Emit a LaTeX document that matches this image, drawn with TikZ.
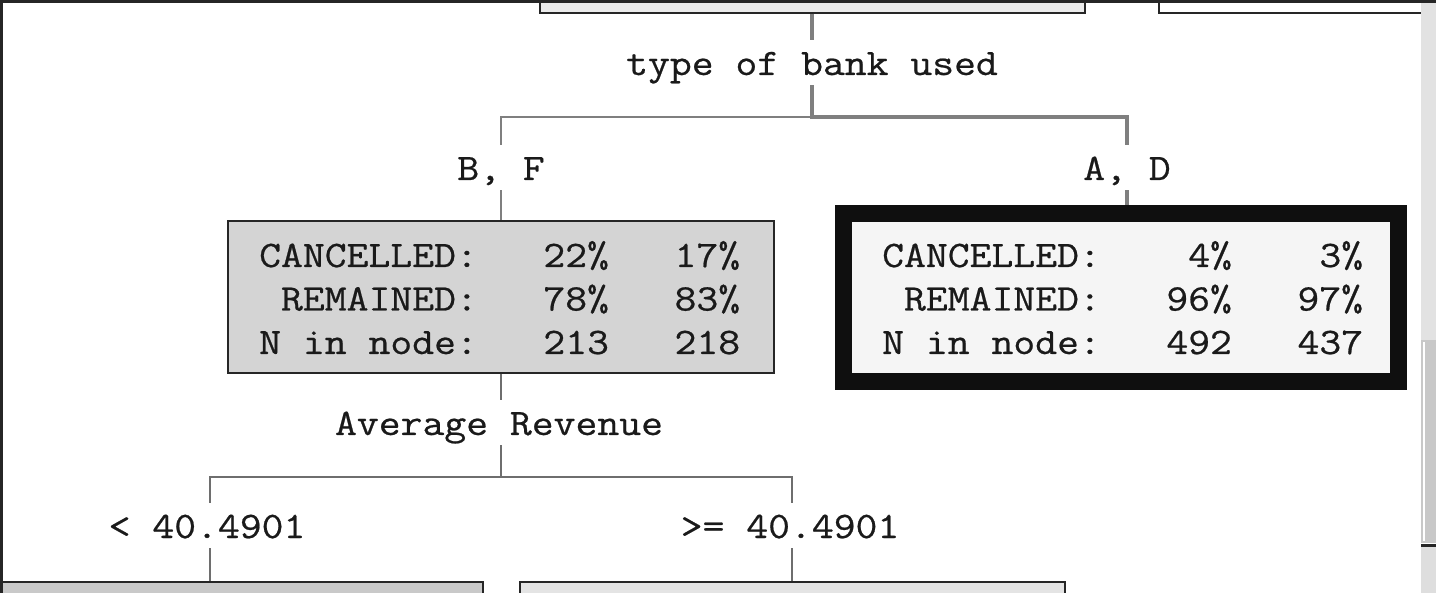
\documentclass[tikz,border=0pt]{standalone}
\usepackage{fontspec}
\newfontfamily\treefamily[FakeStretch=1.135,FakeBold=0.6]{Latin Modern Mono}
\newcommand\treetxt{\treefamily\fontsize{37.4pt}{43.5pt}\selectfont}
\definecolor{ink}{HTML}{1A1A1A}
\definecolor{frame}{HTML}{262626}
\definecolor{rootfill}{HTML}{EBEBEB}
\definecolor{bffill}{HTML}{D4D4D4}
\definecolor{adfill}{HTML}{F5F5F5}
\definecolor{ltfill}{HTML}{C9C9C9}
\definecolor{gefill}{HTML}{E4E4E4}
\definecolor{linegray}{HTML}{7F7F7F}
\definecolor{linegraydark}{HTML}{6E6E6E}
\definecolor{scrolltrack}{HTML}{E2E2E2}
\definecolor{thumbfill}{HTML}{C8C8C8}
\begin{document}
\begin{tikzpicture}[x=1pt,y=-1pt,
  boxframe/.style={draw=frame, line width=2pt, inner sep=0pt},
  treetext/.style={font=\treetxt, text=ink, inner sep=0pt, anchor=base west},
  splitlabel/.style={font=\treetxt, text=ink, fill=white, inner sep=0pt, text height=35pt, text depth=10pt, anchor=base},
  conn/.style={draw=linegray, line width=2.5pt},
  connhi/.style={draw=linegray, line width=3.5pt},
  connlow/.style={draw=linegraydark, line width=2pt}]
\useasboundingbox (0,0) rectangle (1436,593);
\clip (0,0) rectangle (1436,593);

% boxes
\node[boxframe, fill=rootfill, minimum width=545pt, minimum height=60pt] (root) at (812,-17) {};
\node[boxframe, fill=white, minimum width=300pt, minimum height=60pt] (sib) at (1309,-17) {};
\node[boxframe, fill=bffill, minimum width=546pt, minimum height=152pt] (nbf) at (501,297) {};
\node[draw=black!94, line width=17pt, fill=adfill, minimum width=555pt, minimum height=168pt, inner sep=0pt] (nad) at (1121,297.5) {};
\node[boxframe, fill=ltfill, minimum width=545pt, minimum height=60pt, anchor=north] (blt) at (210,581) {};
\node[boxframe, fill=gefill, minimum width=545pt, minimum height=60pt, anchor=north] (bge) at (792,581) {};

% node texts
\node[treetext] (tbf) at (259,267) {\begin{tabular}[t]{@{}l@{}}CANCELLED:~~~22\%~~~17\%\\~REMAINED:~~~78\%~~~83\%\\N in node:~~~213~~~218\end{tabular}};
\node[treetext] (tad) at (882,267) {\begin{tabular}[t]{@{}l@{}}CANCELLED:~~~~4\%~~~~3\%\\~REMAINED:~~~96\%~~~97\%\\N in node:~~~492~~~437\end{tabular}};

% connectors
\coordinate (j1) at (812,117);
\coordinate (j2) at (501,477);
\draw[conn] (root.south |- j1) -| (nbf.north);
\draw[connhi] (root.south) -- (root.south |- j1) -| ([xshift=6pt]nad.north);
\draw[connlow] (nbf.south) -- (j2) -| (blt.north);
\draw[connlow] (j2) -| (bge.north);

% split labels
\node[splitlabel] (lsplit1) at (812,75) {type of bank used};
\node[splitlabel] (lbf) at (501,180) {B, F};
\node[splitlabel] (lad) at (1127,180) {A, D};
\node[splitlabel] (lsplit2) at (499,435) {Average Revenue};
\node[splitlabel] (llt) at (207,538) {< 40.4901};
\node[splitlabel] (lge) at (790,538) {>= 40.4901};

% scrollbar
\fill[scrolltrack] (1421,0) rectangle (1436,340);
\fill[thumbfill] (1421,340) rectangle (1436,543);
\draw[white, line width=2pt] (1424,342) -- (1424,541);
\fill[thumbfill!60] (1421,547) rectangle (1436,593);
\draw[frame, line width=3pt] (1421,545) -- (1436,545);

% window frame
\draw[frame, line width=3pt] (0,1.5) -- (1436,1.5);
\draw[frame, line width=3pt] (1.5,0) -- (1.5,593);
\end{tikzpicture}
\end{document}
